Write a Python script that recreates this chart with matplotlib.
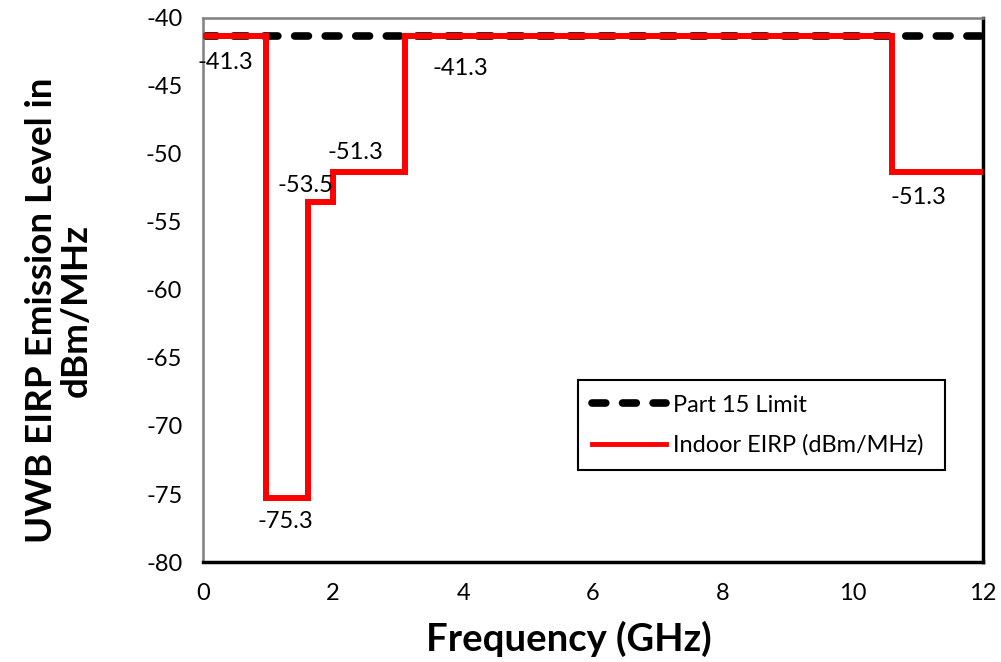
import matplotlib
matplotlib.use("Agg")
import matplotlib.pyplot as plt

# FCC indoor UWB mask
edges_ghz = [0, 0.96, 1.61, 1.99, 3.1, 10.6, 12]
indoor_eirp = [-41.3, -75.3, -53.5, -51.3, -41.3, -51.3]
part15_freq = [0, 12]
part15_limit = [-41.3, -41.3]

# data labels: value, x, y (data coords)
label_vals = [-41.3, -75.3, -53.5, -51.3, -41.3, -51.3]
label_x = [0.34, 1.26, 1.57, 2.34, 3.95, 11.0]
label_y = [-43.3, -77.05, -52.3, -49.9, -43.7, -53.2]

plt.rcParams['font.family'] = ['Lato', 'DejaVu Sans']
plt.rcParams['font.size'] = 17
plt.rcParams['axes.unicode_minus'] = False

fig = plt.figure(figsize=(10.01, 6.62), dpi=100)
ax = fig.add_axes([0.203, 0.151, 0.779, 0.822])

ax.plot(part15_freq, part15_limit, color='black', linewidth=5.5, linestyle=(0, (1.8, 2.2)),
        dash_capstyle='round', label='Part 15 Limit', zorder=2)
ax.stairs(indoor_eirp, edges_ghz, baseline=None, color='#ff0000', linewidth=4.3,
          label='Indoor EIRP (dBm/MHz)', zorder=3)

for v, x, y in zip(label_vals, label_x, label_y):
    ax.text(x, y, f'{v:.1f}', ha='center', va='center', fontsize=17, zorder=4)

ax.set_xlim(0, 12)
ax.set_ylim(-80, -40)
ax.set_xticks(range(0, 13, 2))
ax.set_yticks(range(-80, -39, 5))
ax.tick_params(length=0, pad=15, labelsize=17)

for side in ['left', 'top']:
    ax.spines[side].set_color('#808080')
    ax.spines[side].set_linewidth(1.8)
for side in ['right', 'bottom']:
    ax.spines[side].set_color('black')
    ax.spines[side].set_linewidth(2.5)

ax.set_xlabel('Frequency (GHz)', fontsize=27.5, fontweight='bold')
ax.xaxis.set_label_coords(0.469, -0.108)
ax.set_ylabel('UWB EIRP Emission Level in\ndBm/MHz', fontsize=26.5, fontweight='bold', linespacing=1.05)
ax.yaxis.set_label_coords(-0.142, 0.463)

leg = ax.legend(loc='lower left', bbox_to_anchor=(0.481, 0.169, 0.47, 0.16), mode='expand',
                fontsize=17, handlelength=3.1, handletextpad=0.3, fancybox=False,
                framealpha=1, borderaxespad=0, labelspacing=0.8, borderpad=0.6)
leg.get_frame().set_edgecolor('black')
leg.get_frame().set_linewidth(1.5)
leg.get_lines()[1].set_linewidth(3.5)

fig.savefig('out.png', dpi=100)
